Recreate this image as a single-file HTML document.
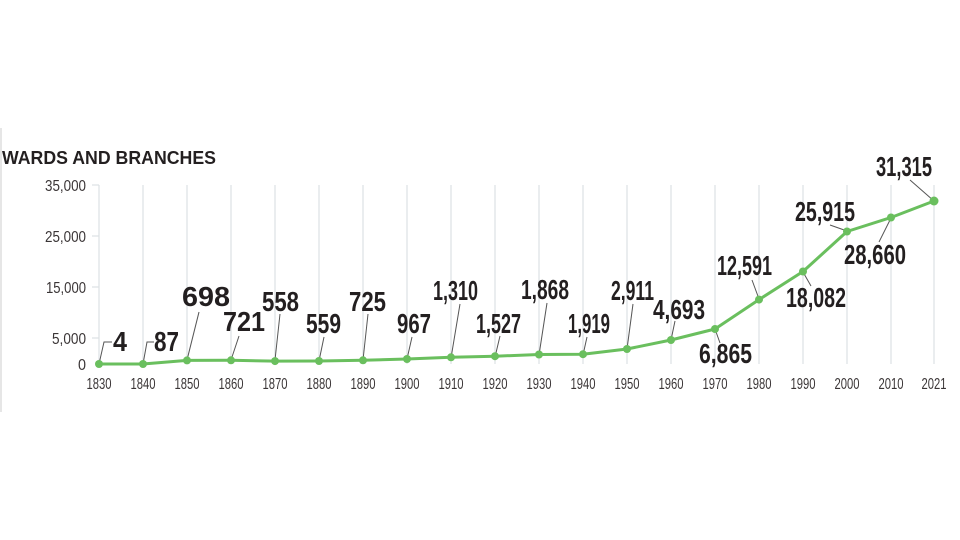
<!DOCTYPE html>
<html><head><meta charset="utf-8"><style>
html,body{margin:0;padding:0;background:#fff;width:960px;height:540px;overflow:hidden}
svg{display:block}
.t{font-family:"Liberation Sans",sans-serif;}
.lab{font-family:"Liberation Sans",sans-serif;font-weight:bold;font-size:28px;fill:#231f20}
.ax{font-family:"Liberation Sans",sans-serif;font-size:16px;fill:#3a3536}
</style></head><body>
<svg width="960" height="540" viewBox="0 0 960 540">
<line x1="1" y1="128" x2="1" y2="412" stroke="#e6e6e6" stroke-width="2"/>
<text class="t" x="2" y="164" font-size="18" font-weight="bold" fill="#231f20" textLength="214" lengthAdjust="spacingAndGlyphs">WARDS AND BRANCHES</text>
<g stroke="#dde1e4" stroke-width="1.2">
<line x1="143" y1="185" x2="143" y2="364"/><line x1="187" y1="185" x2="187" y2="364"/>
<line x1="231" y1="185" x2="231" y2="364"/><line x1="275" y1="185" x2="275" y2="364"/>
<line x1="319" y1="185" x2="319" y2="364"/><line x1="363" y1="185" x2="363" y2="364"/>
<line x1="407" y1="185" x2="407" y2="364"/><line x1="451" y1="185" x2="451" y2="364"/>
<line x1="495" y1="185" x2="495" y2="364"/><line x1="539" y1="185" x2="539" y2="364"/>
<line x1="583" y1="185" x2="583" y2="364"/><line x1="627" y1="185" x2="627" y2="364"/>
<line x1="671" y1="185" x2="671" y2="364"/><line x1="715" y1="185" x2="715" y2="364"/>
<line x1="759" y1="185" x2="759" y2="364"/><line x1="803" y1="185" x2="803" y2="364"/>
<line x1="847" y1="185" x2="847" y2="364"/><line x1="891" y1="185" x2="891" y2="364"/>
<line x1="934" y1="185" x2="934" y2="364"/>
<line x1="99" y1="185" x2="99" y2="364"/>
<line x1="92" y1="185" x2="99" y2="185"/><line x1="92" y1="236" x2="99" y2="236"/>
<line x1="92" y1="287" x2="99" y2="287"/><line x1="92" y1="338" x2="99" y2="338"/>
</g>
<g class="ax" text-anchor="end">
<text x="86" y="191" textLength="41" lengthAdjust="spacingAndGlyphs">35,000</text>
<text x="86" y="242" textLength="41" lengthAdjust="spacingAndGlyphs">25,000</text>
<text x="86" y="293" textLength="40" lengthAdjust="spacingAndGlyphs">15,000</text>
<text x="86" y="344" textLength="34" lengthAdjust="spacingAndGlyphs">5,000</text>
<text x="86" y="370" textLength="8" lengthAdjust="spacingAndGlyphs">0</text>
</g>
<g class="ax" text-anchor="middle">
<text x="99" y="389" textLength="25" lengthAdjust="spacingAndGlyphs">1830</text><text x="143" y="389" textLength="25" lengthAdjust="spacingAndGlyphs">1840</text><text x="187" y="389" textLength="25" lengthAdjust="spacingAndGlyphs">1850</text>
<text x="231" y="389" textLength="25" lengthAdjust="spacingAndGlyphs">1860</text><text x="275" y="389" textLength="25" lengthAdjust="spacingAndGlyphs">1870</text><text x="319" y="389" textLength="25" lengthAdjust="spacingAndGlyphs">1880</text>
<text x="363" y="389" textLength="25" lengthAdjust="spacingAndGlyphs">1890</text><text x="407" y="389" textLength="25" lengthAdjust="spacingAndGlyphs">1900</text><text x="451" y="389" textLength="25" lengthAdjust="spacingAndGlyphs">1910</text>
<text x="495" y="389" textLength="25" lengthAdjust="spacingAndGlyphs">1920</text><text x="539" y="389" textLength="25" lengthAdjust="spacingAndGlyphs">1930</text><text x="583" y="389" textLength="25" lengthAdjust="spacingAndGlyphs">1940</text>
<text x="627" y="389" textLength="25" lengthAdjust="spacingAndGlyphs">1950</text><text x="671" y="389" textLength="25" lengthAdjust="spacingAndGlyphs">1960</text><text x="715" y="389" textLength="25" lengthAdjust="spacingAndGlyphs">1970</text>
<text x="759" y="389" textLength="25" lengthAdjust="spacingAndGlyphs">1980</text><text x="803" y="389" textLength="25" lengthAdjust="spacingAndGlyphs">1990</text><text x="847" y="389" textLength="25" lengthAdjust="spacingAndGlyphs">2000</text>
<text x="891" y="389" textLength="25" lengthAdjust="spacingAndGlyphs">2010</text><text x="934" y="389" textLength="25" lengthAdjust="spacingAndGlyphs">2021</text>
</g>
<g stroke="#555" stroke-width="1" fill="none">
<polyline points="99,364 104,342 112,342"/>
<polyline points="143,364 147,342 154,342"/>
<line x1="187" y1="360" x2="199" y2="312"/>
<line x1="231" y1="360" x2="239" y2="336"/>
<line x1="275" y1="360" x2="280" y2="314"/>
<line x1="319" y1="361" x2="324" y2="337"/>
<line x1="363" y1="360" x2="368" y2="314"/>
<line x1="407" y1="359" x2="412" y2="337"/>
<line x1="451" y1="358" x2="460" y2="304"/>
<line x1="495" y1="357" x2="500" y2="336"/>
<line x1="539" y1="355" x2="547" y2="303"/>
<line x1="583" y1="355" x2="587" y2="337"/>
<line x1="627" y1="349" x2="633" y2="304"/>
<line x1="671" y1="340" x2="675" y2="321"/>
<line x1="715" y1="329" x2="720" y2="343"/>
<line x1="759" y1="299" x2="752" y2="280"/>
<line x1="803" y1="272" x2="811" y2="286"/>
<line x1="847" y1="231" x2="830" y2="225"/>
<line x1="891" y1="218" x2="879" y2="242"/>
<line x1="934" y1="201" x2="910" y2="180"/>
</g>
<polyline fill="none" stroke="#6abf5e" stroke-width="3" stroke-linejoin="round" points="99,364 143,364 187,360.4 231,360.3 275,361.1 319,361 363,360.3 407,359 451,357.3 495,356.2 539,354.5 583,354.2 627,349 671,340 715,329 759,299.6 803,271.5 847,231.5 891,217.5 934,201"/>
<g fill="#6abf5e">
<circle cx="99" cy="364" r="4"/><circle cx="143" cy="364" r="4"/><circle cx="187" cy="360.4" r="4"/>
<circle cx="231" cy="360.3" r="4"/><circle cx="275" cy="361.1" r="4"/><circle cx="319" cy="361" r="4"/>
<circle cx="363" cy="360.3" r="4"/><circle cx="407" cy="359" r="4"/><circle cx="451" cy="357.3" r="4"/>
<circle cx="495" cy="356.2" r="4"/><circle cx="539" cy="354.5" r="4"/><circle cx="583" cy="354.2" r="4"/>
<circle cx="627" cy="349" r="4"/><circle cx="671" cy="340" r="4"/><circle cx="715" cy="329" r="4"/>
<circle cx="759" cy="299.6" r="4"/><circle cx="803" cy="271.5" r="4"/><circle cx="847" cy="231.5" r="4"/>
<circle cx="891" cy="217.5" r="4"/><circle cx="934" cy="201" r="4.5"/>
</g>
<g class="lab">
<text x="113" y="351" textLength="14" lengthAdjust="spacingAndGlyphs">4</text>
<text x="154" y="351" textLength="25" lengthAdjust="spacingAndGlyphs">87</text>
<text x="182" y="306" textLength="48" lengthAdjust="spacingAndGlyphs">698</text>
<text x="223" y="331" textLength="42" lengthAdjust="spacingAndGlyphs">721</text>
<text x="262" y="311" textLength="37" lengthAdjust="spacingAndGlyphs">558</text>
<text x="306" y="333" textLength="35" lengthAdjust="spacingAndGlyphs">559</text>
<text x="349" y="311" textLength="37" lengthAdjust="spacingAndGlyphs">725</text>
<text x="397" y="333" textLength="34" lengthAdjust="spacingAndGlyphs">967</text>
<text x="433" y="300" textLength="45" lengthAdjust="spacingAndGlyphs">1,310</text>
<text x="476" y="333" textLength="45" lengthAdjust="spacingAndGlyphs">1,527</text>
<text x="521" y="299" textLength="48" lengthAdjust="spacingAndGlyphs">1,868</text>
<text x="568" y="333" textLength="42" lengthAdjust="spacingAndGlyphs">1,919</text>
<text x="611" y="300" textLength="43" lengthAdjust="spacingAndGlyphs">2,911</text>
<text x="653" y="319" textLength="52" lengthAdjust="spacingAndGlyphs">4,693</text>
<text x="699" y="363" textLength="53" lengthAdjust="spacingAndGlyphs">6,865</text>
<text x="717" y="275" textLength="55" lengthAdjust="spacingAndGlyphs">12,591</text>
<text x="786" y="307" textLength="60" lengthAdjust="spacingAndGlyphs">18,082</text>
<text x="795" y="221" textLength="60" lengthAdjust="spacingAndGlyphs">25,915</text>
<text x="844" y="264" textLength="62" lengthAdjust="spacingAndGlyphs">28,660</text>
<text x="876" y="176" textLength="56" lengthAdjust="spacingAndGlyphs">31,315</text>
</g>
</svg>
</body></html>
